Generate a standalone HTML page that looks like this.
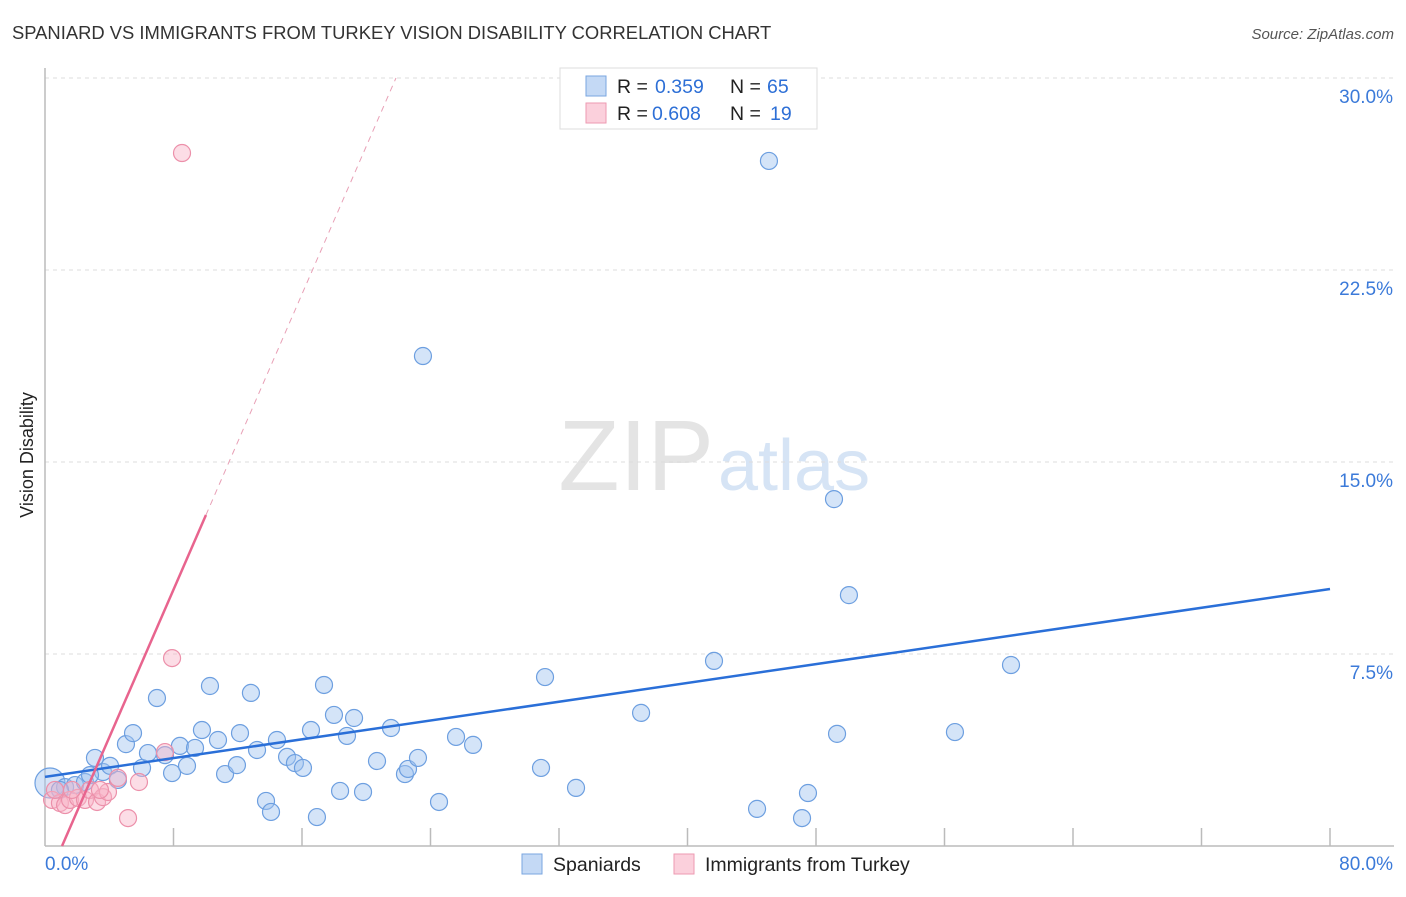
<!DOCTYPE html>
<html><head><meta charset="utf-8"><style>
body{margin:0;background:#fff;font-family:"Liberation Sans",sans-serif;}
svg text{font-family:"Liberation Sans",sans-serif;}
</style></head><body>
<svg width="1406" height="892">
<text x="12" y="39" font-size="18.4" fill="#333">SPANIARD VS IMMIGRANTS FROM TURKEY VISION DISABILITY CORRELATION CHART</text>
<text x="1394" y="39" font-size="15" fill="#555" font-style="italic" text-anchor="end">Source: ZipAtlas.com</text>
<text x="33" y="455" font-size="18" fill="#222" transform="rotate(-90 33 455)" text-anchor="middle">Vision Disability</text>
<text x="714" y="490" font-size="100" fill="#e4e4e4" text-anchor="end" font-family="Liberation Serif">ZIP</text>
<text x="718" y="490" font-size="72" fill="#d6e4f5">atlas</text>
<g id="grid"></g><g id="axes"></g><g id="pts"></g><g id="lines"></g>
<g>
<rect x="560" y="68" width="257" height="61" fill="#fff" stroke="#ddd"/>
<rect x="586" y="76" width="20" height="20" fill="#c4d9f5" stroke="#7aa6e0"/>
<rect x="586" y="103" width="20" height="20" fill="#fbd0dc" stroke="#ee9ab2"/>
<text x="617" y="93" font-size="19.5" fill="#222">R =</text>
<text x="655" y="93" font-size="19.5" fill="#2d6fd6">0.359</text>
<text x="730" y="93" font-size="19.5" fill="#222">N =</text>
<text x="767" y="93" font-size="19.5" fill="#2d6fd6">65</text>
<text x="617" y="120" font-size="19.5" fill="#222">R =</text>
<text x="652" y="120" font-size="19.5" fill="#2d6fd6">0.608</text>
<text x="730" y="120" font-size="19.5" fill="#222">N =</text>
<text x="770" y="120" font-size="19.5" fill="#2d6fd6">19</text>
</g>
<g>
<rect x="522" y="854" width="20" height="20" fill="#c4d9f5" stroke="#7aa6e0"/>
<text x="553" y="871" font-size="19.5" fill="#222">Spaniards</text>
<rect x="674" y="854" width="20" height="20" fill="#fbd0dc" stroke="#ee9ab2"/>
<text x="705" y="871" font-size="19.5" fill="#222">Immigrants from Turkey</text>
</g>
</svg>
<script>
const xTicks=[0,8,16,24,32,40,48,56,64,72,80];
const yTicks=[7.5,15,22.5,30];
const yTickLabels=["7.5%","15.0%","22.5%","30.0%"];
const bluePx=[[50,783],[65,787],[75,785],[85,782],[95,758],[103,772],[110,766],[118,780],[126,744],[133,733],[142,768],[148,753],[157,698],[165,755],[172,773],[180,746],[187,766],[195,748],[202,730],[210,686],[218,740],[225,774],[237,765],[240,733],[251,693],[257,750],[266,801],[271,812],[277,740],[287,757],[295,763],[303,768],[311,730],[317,817],[324,685],[334,715],[340,791],[347,736],[354,718],[363,792],[377,761],[391,728],[405,774],[408,769],[418,758],[423,356],[439,802],[456,737],[473,745],[541,768],[545,677],[576,788],[641,713],[714,661],[757,809],[769,161],[802,818],[808,793],[834,499],[837,734],[849,595],[955,732],[1011,665],[60,790],[90,775]];
const pinkPx=[[182,153],[172,658],[165,752],[139,782],[128,818],[52,800],[60,803],[65,805],[70,800],[78,798],[85,800],[90,790],[97,802],[103,797],[108,792],[118,778],[72,790],[55,790],[100,790]];
const blueX=bluePx.map(p=>+((p[0]-45)/1285*80).toFixed(2));
const blueY=bluePx.map(p=>+((846-p[1])/768*30).toFixed(2));
const pinkX=pinkPx.map(p=>+((p[0]-45)/1285*80).toFixed(2));
const pinkY=pinkPx.map(p=>+((846-p[1])/768*30).toFixed(2));
const blueTrend=[2.7,10.04];
const pinkTrend=[1.443,-1.53];
const X=v=>45+v/80*1285, Y=v=>846-v/30*768;
const NS="http://www.w3.org/2000/svg";
function mk(tag,attrs,parent){const e=document.createElementNS(NS,tag);for(const k in attrs)e.setAttribute(k,attrs[k]);document.getElementById(parent).appendChild(e);return e;}
yTicks.forEach((t,i)=>{
 const l=mk('line',{x1:45,x2:1394,y1:Y(t),y2:Y(t),stroke:'#ddd','stroke-dasharray':'4,4'},'grid');
 
 
 const tx=mk('text',{x:1393,y:Y(t)+25,'font-size':19,fill:'#3b7ad9','text-anchor':'end'},'grid');
 tx.textContent=yTickLabels[i];
 
 
});
const ax=mk('line',{x1:45,x2:45,y1:68,y2:846,stroke:'#bbb','stroke-width':1.5},'axes');


const bx=mk('line',{x1:45,x2:1394,y1:846,y2:846,stroke:'#bbb','stroke-width':1.5},'axes');


xTicks.slice(1).forEach(t=>{
 const l=mk('line',{x1:X(t),x2:X(t),y1:828,y2:846,stroke:'#bbb','stroke-width':1.5},'axes');
 
 
});
const x0=mk('text',{x:45,y:870,'font-size':19,fill:'#3b7ad9'},'axes');x0.textContent='0.0%';


const x1=mk('text',{x:1393,y:870,'font-size':19,fill:'#3b7ad9','text-anchor':'end'},'axes');x1.textContent='80.0%';


blueX.forEach((v,i)=>{
 const c=mk('circle',{cx:X(v),cy:Y(blueY[i]),r:i==0?15:8.5,fill:'rgba(160,196,240,0.45)',stroke:'#6d9fe0','stroke-width':1.2},'pts');
 
 
});
pinkX.forEach((v,i)=>{
 const c=mk('circle',{cx:X(v),cy:Y(pinkY[i]),r:8.5,fill:'rgba(248,180,200,0.45)',stroke:'#ec90aa','stroke-width':1.2},'pts');
 
 
});
const bl=mk('line',{x1:X(0),y1:Y(blueTrend[0]),x2:X(80),y2:Y(blueTrend[1]),stroke:'#2a6fd8','stroke-width':2.5},'lines');


const px0=-pinkTrend[1]/pinkTrend[0], px1=10.02, px2=(30-pinkTrend[1])/pinkTrend[0];
const pl=mk('line',{x1:X(px0),y1:Y(0),x2:X(px1),y2:Y(pinkTrend[0]*px1+pinkTrend[1]),stroke:'#e8648e','stroke-width':2.5},'lines');


const pd=mk('line',{x1:X(px1),y1:Y(pinkTrend[0]*px1+pinkTrend[1]),x2:X(px2),y2:Y(30),stroke:'#e8a0b6','stroke-width':1,'stroke-dasharray':'6,5'},'lines');


</script>
</body></html>
